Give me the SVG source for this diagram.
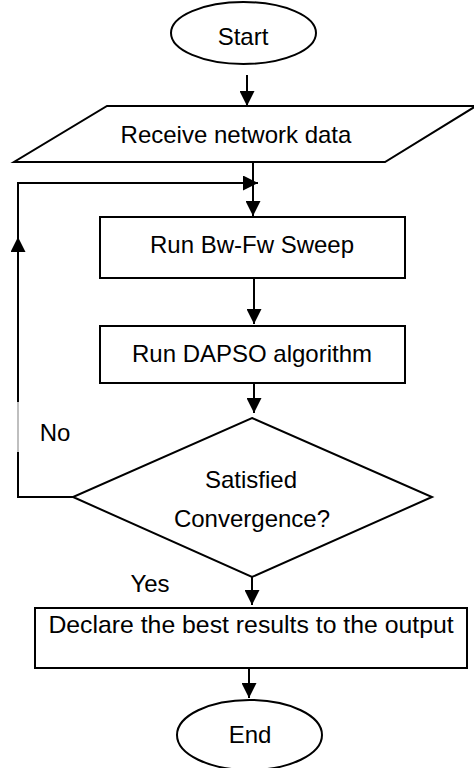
<svg xmlns="http://www.w3.org/2000/svg" width="474" height="768" viewBox="0 0 474 768">
<style>
.shape{fill:#fff;stroke:#000;stroke-width:2}
.lbl{font-family:"Liberation Sans",Arial,sans-serif;font-size:24px;fill:#000;text-anchor:middle}
.conn{fill:none;stroke:#000;stroke-width:2}
</style>
<defs>
<marker id="ah" viewBox="0 0 16 16" refX="16" refY="8" markerWidth="15" markerHeight="15" markerUnits="userSpaceOnUse" orient="auto">
<path d="M0,0 L16,8 L0,16 z" fill="#000"/>
</marker>
</defs>
<rect width="474" height="768" fill="#fff"/>
<g id="start">
<ellipse class="shape" cx="243.5" cy="33" rx="72.5" ry="31"/>
<text class="lbl" x="243" y="45">Start</text>
</g>
<g id="receive">
<polygon class="shape" points="107,106 476,106 385,162 14,162"/>
<text class="lbl" x="236" y="143">Receive network data</text>
</g>
<g id="sweep">
<rect class="shape" x="100" y="217" width="305" height="61"/>
<text class="lbl" x="252" y="253">Run Bw-Fw Sweep</text>
</g>
<g id="dapso">
<rect class="shape" x="100" y="326" width="305" height="57"/>
<text class="lbl" x="252" y="362">Run DAPSO algorithm</text>
</g>
<g id="decision">
<polygon class="shape" points="252,418 432,497 252,577 73,497"/>
<text class="lbl" x="251" y="488">Satisfied</text>
<text class="lbl" x="252" y="527">Convergence?</text>
</g>
<g id="declare">
<rect class="shape" x="35" y="608" width="432" height="60"/>
<text class="lbl" x="251" y="633" style="font-size:24.8px">Declare the best results to the output</text>
</g>
<g id="end">
<ellipse class="shape" cx="249.5" cy="735" rx="72.5" ry="35"/>
<text class="lbl" x="250" y="743">End</text>
</g>
<g id="connectors">
<path class="conn" d="M247,75 L247,106" marker-end="url(#ah)"/>
<path class="conn" d="M253,162 L253,216" marker-end="url(#ah)"/>
<path class="conn" d="M254,278 L254,324" marker-end="url(#ah)"/>
<path class="conn" d="M254,383 L254,413" marker-end="url(#ah)"/>
<path class="conn" d="M252,577 L252,605" marker-end="url(#ah)"/>
<path class="conn" d="M249,668 L249,698" marker-end="url(#ah)"/>
<path class="conn" d="M73,497 L18,497 L18,452"/>
<path d="M18,452 L18,402" fill="none" stroke="#aaa" stroke-width="1.5"/>
<path class="conn" d="M18,402 L18,183 L258,183" marker-end="url(#ah)"/>
<path class="conn" d="M18,260 L18,237" marker-end="url(#ah)"/>
<text class="lbl" x="55" y="441">No</text>
<text class="lbl" x="150" y="592">Yes</text>
</g>
</svg>
